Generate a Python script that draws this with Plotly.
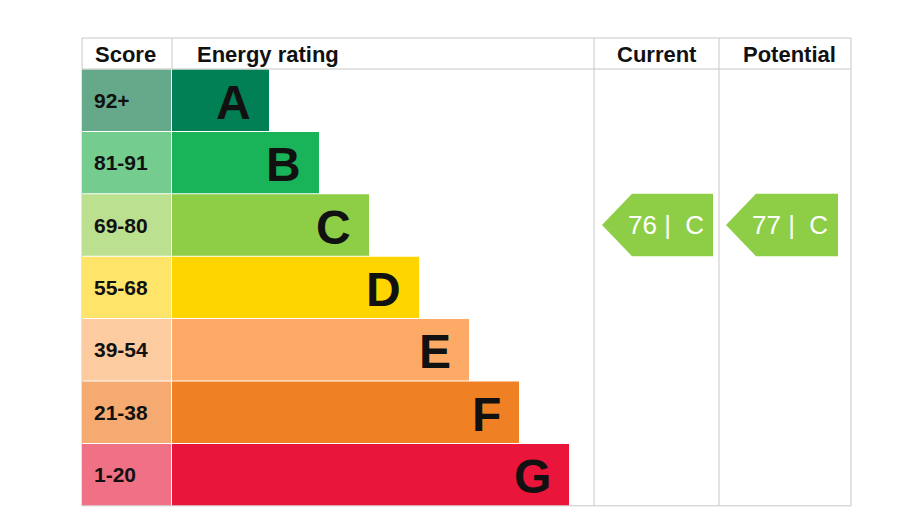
import plotly.graph_objects as go

bands = ["A", "B", "C", "D", "E", "F", "G"]
scores = ["92+", "81-91", "69-80", "55-68", "39-54", "21-38", "1-20"]
bar_colors = ["#008054", "#19b459", "#8dce46", "#ffd500", "#fcaa65", "#ef8023", "#e9153a"]
score_colors = ["#66a98a", "#74cc8e", "#bbe08f", "#ffe46a", "#fdcba0", "#f4aa70", "#f07186"]
bar_lengths = [97, 147, 197, 247, 297, 347, 397]
current_value, current_band = 76, "C"
potential_value, potential_band = 77, "C"

X0, SCORE_W, BAR0 = 74, 89, 164
TOP, HEAD, ROW = 30, 31, 62.4
RIGHT, COL1, COL2 = 843, 586, 711
centers = [TOP + HEAD + ROW * (i + 0.5) for i in range(7)]
FONT = "Liberation Sans, Arial, sans-serif"

fig = go.Figure()
fig.add_trace(go.Bar(orientation="h", y=centers, x=[SCORE_W] * 7, base=X0, width=ROW - 1,
                     marker=dict(color=score_colors, line_width=0), hoverinfo="skip"))
fig.add_trace(go.Bar(orientation="h", y=centers, x=bar_lengths, base=BAR0, width=ROW - 1,
                     marker=dict(color=bar_colors, line_width=0), hoverinfo="skip"))

ann = []
for i in range(7):
    ann.append(dict(x=X0 + 10, y=centers[i], text=f"<b>{scores[i]}</b>", xanchor="left",
                    showarrow=False, font=dict(size=21, color="#111", family=FONT)))
    ann.append(dict(x=BAR0 + bar_lengths[i] - 16, y=centers[i] + 2, text=f"<b>{bands[i]}</b>",
                    xanchor="right", showarrow=False, font=dict(size=48, color="#111", family=FONT)))
for txt, x in [("Score", 117), ("Energy rating", 260), ("Current", 649), ("Potential", 781)]:
    ann.append(dict(x=x, y=TOP + HEAD / 2 + 1, text=f"<b>{txt}</b>", showarrow=False,
                    font=dict(size=22, color="#111", family=FONT)))

def arrow(x0, x1, value, band):
    row = bands.index(band)
    yc = centers[row]
    h = ROW / 2
    xs = [x0, x0 + 30, x1, x1, x0 + 30, x0]
    ys = [yc, yc - h, yc - h, yc + h, yc + h, yc]
    fig.add_trace(go.Scatter(x=xs, y=ys, fill="toself", fillcolor=bar_colors[row],
                             line=dict(width=0), mode="lines", hoverinfo="skip"))
    ann.append(dict(x=(x0 + x1) / 2 + 8, y=yc, text=f"{value} |  {band}", showarrow=False,
                    font=dict(size=26, color="white", family=FONT)))

arrow(594, 705, current_value, current_band)
arrow(718, 830, potential_value, potential_band)

BOTTOM = TOP + HEAD + ROW * 7
line = dict(color="#c8c8c8", width=1)
shapes = [dict(type="rect", x0=X0, x1=RIGHT, y0=TOP, y1=BOTTOM, line=line, layer="below"),
          dict(type="line", x0=X0, x1=RIGHT, y0=TOP + HEAD, y1=TOP + HEAD, line=line),
          dict(type="line", x0=BAR0, x1=BAR0, y0=TOP, y1=TOP + HEAD, line=line),
          dict(type="line", x0=COL1, x1=COL1, y0=TOP, y1=BOTTOM, line=line),
          dict(type="line", x0=COL2, x1=COL2, y0=TOP, y1=BOTTOM, line=line)]

fig.update_layout(width=906, height=529, margin=dict(l=0, r=0, t=0, b=0),
                  plot_bgcolor="white", paper_bgcolor="white", showlegend=False,
                  barmode="overlay", annotations=ann, shapes=shapes,
                  xaxis=dict(range=[0, 906], visible=False, fixedrange=True),
                  yaxis=dict(range=[529, 0], visible=False, fixedrange=True))
fig.write_html("out.html")
